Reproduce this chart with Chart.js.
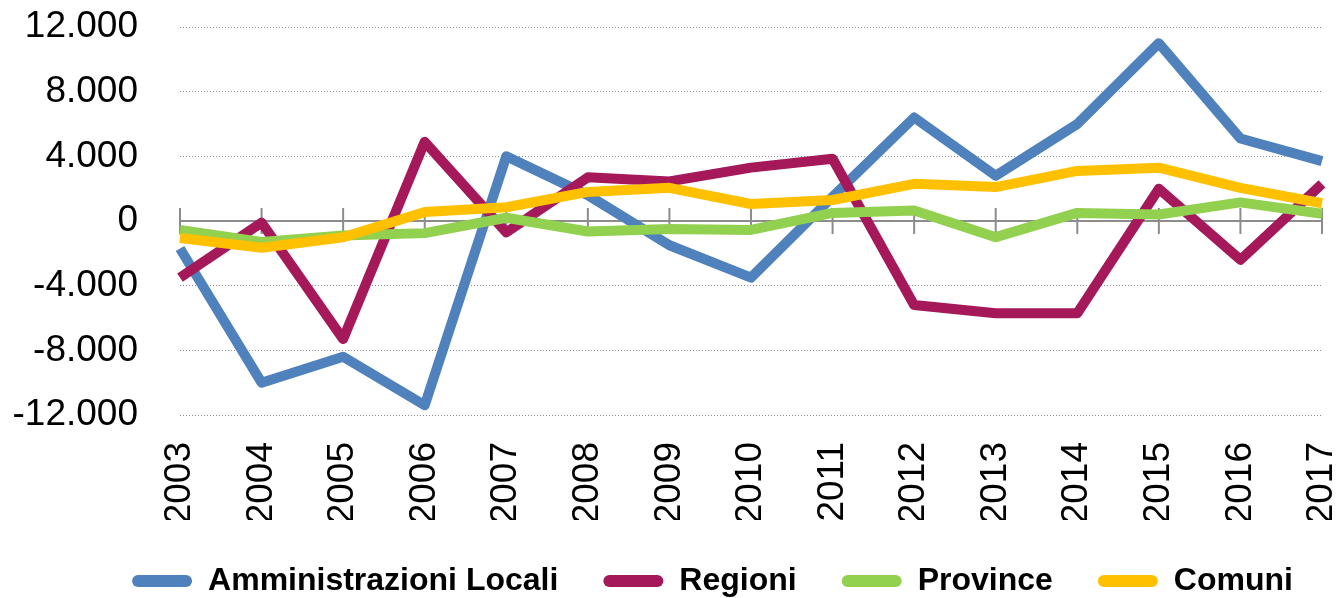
<!DOCTYPE html>
<html>
<head>
<meta charset="utf-8">
<script src="https://cdn.jsdelivr.net/npm/chart.js@4.4.1/dist/chart.umd.min.js"></script>
<style>
html,body{margin:0;padding:0;background:#fff;}
#wrap{width:1339px;height:598px;position:relative;}
</style>
</head>
<body>
<div id="wrap"><canvas id="c"></canvas></div>
<script>
const categories = ['2003','2004','2005','2006','2007','2008','2009','2010','2011','2012','2013','2014','2015','2016','2017'];
const seriesNames = ['Amministrazioni Locali','Regioni','Province','Comuni'];
const amministrazioniLocali = [-1700,-10000,-8400,-11400,4000,1600,-1500,-3500,1500,6400,2800,6000,11000,5100,3700];
const regioni = [-3500,-100,-7300,4900,-700,2700,2450,3300,3850,-5200,-5700,-5700,2000,-2400,2300];
const province = [-550,-1300,-900,-750,200,-650,-500,-550,500,650,-1000,500,400,1150,450];
const comuni = [-1050,-1650,-1000,550,850,1800,2050,1050,1300,2300,2100,3100,3300,2050,1100];
const yTicks = [-12000,-8000,-4000,0,4000,8000,12000];
const colors = ['#4F81BD','#A5195B','#92D050','#FFC000'];

function fmt(v){
  const s = Math.abs(v).toString().replace(/\B(?=(\d{3})+(?!\d))/g,'.');
  return (v<0?'-':'') + s;
}

const zeroAxis = {
  id:'zeroAxis',
  afterLayout(chart){
    if (chart.legend) {
      const shift = 43 - (chart.legend.left + chart.legend.right - 1339) / 2;
      chart.legend.left += shift; chart.legend.right += shift;
    }
  },
  beforeDatasetsDraw(chart){
    const {ctx, chartArea, scales} = chart;
    const y0 = scales.y.getPixelForValue(0);
    ctx.save();
    ctx.strokeStyle = '#8c8c8c';
    ctx.lineWidth = 2;
    ctx.beginPath();
    ctx.moveTo(chartArea.left, y0);
    ctx.lineTo(chartArea.right, y0);
    ctx.stroke();
    categories.forEach((c,i)=>{
      const x = scales.x.getPixelForValue(i);
      ctx.beginPath();
      ctx.moveTo(x, y0-13);
      ctx.lineTo(x, y0+13);
      ctx.stroke();
    });
    ctx.restore();
  }
};

const dataArrays = [amministrazioniLocali, regioni, province, comuni];
const datasets = dataArrays.map((d,i)=>({
  label: seriesNames[i],
  data: d,
  borderColor: colors[i],
  backgroundColor: colors[i],
  borderWidth: 10,
  pointRadius: 0,
  pointHoverRadius: 0,
  tension: 0,
  fill: false,
  borderJoinStyle: 'round',
  borderCapStyle: 'butt',
  order: 4 - i
}));

function noPad(scale){ scale.paddingTop = 0; scale.paddingBottom = 0; scale.paddingLeft = 0; scale.paddingRight = 0; }

const chart = new Chart(document.getElementById('c'), {
  type: 'line',
  data: { labels: categories, datasets },
  options: {
    responsive: true,
    maintainAspectRatio: false,
    animation: false,
    layout: { autoPadding: false, padding: { left: 0, right: 0, top: 27, bottom: 0 } },
    plugins: {
      tooltip: { enabled: false },
      legend: {
        position: 'bottom',
        maxHeight: 78,
        labels: {
          font: { family: 'Liberation Sans', size: 32, weight: 'bold' },
          color: '#000',
          boxWidth: 60,
          boxHeight: 12,
          padding: 45,
          useBorderRadius: true,
          borderRadius: 6,
          generateLabels(chart){
            const items = Chart.defaults.plugins.legend.labels.generateLabels(chart);
            items.sort((a,b)=>a.datasetIndex-b.datasetIndex);
            return items.map(it=>Object.assign(it,{lineWidth:0}));
          }
        }
      }
    },
    scales: {
      x: {
        grid: { display: false, drawTicks: false },
        border: { display: false },
        ticks: {
          font: { family: 'Liberation Sans', size: 37 },
          color: '#000',
          minRotation: 90,
          maxRotation: 90,
          padding: 27,
          autoSkip: false
        },
        afterFit(scale){ scale.height = 105; noPad(scale); }
      },
      y: {
        min: -12000,
        max: 12000,
        afterBuildTicks(scale){ scale.ticks = yTicks.map(v=>({value:v})); },
        grid: {
          drawTicks: false,
          lineWidth: 1,
          color: (ctx)=> (ctx.tick && ctx.tick.value === 0) ? 'rgba(0,0,0,0)' : '#8c8c8c'
        },
        border: { display: false, dash: [1,2] },
        ticks: {
          font: { family: 'Liberation Sans', size: 37 },
          color: '#000',
          padding: 42,
          callback: (v)=>fmt(v)
        },
        afterFit(scale){ scale.width = 180; noPad(scale); }
      },
      y2: {
        position: 'right',
        display: true,
        grid: { display: false, drawTicks: false },
        border: { display: false },
        ticks: { display: false },
        afterFit(scale){ scale.width = 17; noPad(scale); }
      }
    }
  },
  plugins: [zeroAxis]
});
</script>
</body>
</html>
